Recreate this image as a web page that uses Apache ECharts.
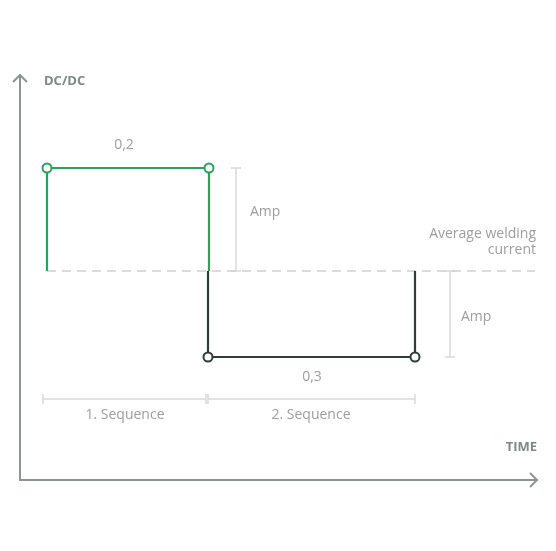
<!DOCTYPE html>
<html>
  <head>
    <meta charset="utf-8" />
    <title>DC/DC pulse</title>
    <script src="https://cdn.jsdelivr.net/npm/echarts@6/dist/echarts.min.js"></script>
    <style type="text/css">
      body { margin: 0; background: #fff; }
    </style>
  </head>
  <body>
    <div id="main" style="width: 556px; height: 551px"></div>
    <script type="text/javascript">
      // time positions (chart units) and current levels
      var timeMarks = [27, 188, 395];
      var avgLevel = 209;
      var highLevel = 312;
      var lowLevel = 123;

      // first sequence (green), second sequence (dark)
      var seq1 = [[27, 209], [27, 312], [189, 312], [189, 209]];
      var seq2 = [[188, 209], [188, 123], [395, 123], [395, 209]];
      var avgLine = [[27, 209], [515, 209]];

      // brackets: x1, y1, x2, y2
      var brackets = [
        [216, 312, 216, 209],
        [430, 209, 430, 123],
        [23, 81, 186, 81],
        [188, 81, 395, 81]
      ];

      // labels: x, y, text, align
      var labels = [
        [104, 335, "0,2", "center"],
        [230, 268, "Amp", "left"],
        [516, 238, "Average welding\ncurrent", "right"],
        [441, 163, "Amp", "left"],
        [292, 103, "0,3", "center"],
        [105, 65, "1. Sequence", "center"],
        [291, 65, "2. Sequence", "center"]
      ];

      // axis ends that get an open arrowhead: x, y, direction
      var arrowEnds = [[517, 0, "right"], [0, 405, "up"]];

      var myChart = echarts.init(document.getElementById("main"));

      function markerData(pts, marked) {
        return pts.map(function (p, i) {
          return marked.indexOf(i) >= 0 ? { value: p } : { value: p, symbol: "none" };
        });
      }

      var axisGrey = "#8c9592";

      var option = {
        animation: false,
        textStyle: { fontFamily: "Open Sans" },
        grid: { left: 20, top: 75, width: 517, height: 405 },
        xAxis: {
          type: "value", min: 0, max: 517,
          name: "TIME", nameLocation: "end", nameGap: 0,
          nameTextStyle: {
            color: "#7e8986", fontWeight: "bold", fontSize: 13,
            align: "right", verticalAlign: "bottom", padding: [0, 0, 26, 0]
          },
          axisLine: { lineStyle: { color: axisGrey, width: 2 } },
          axisTick: { show: false }, axisLabel: { show: false }, splitLine: { show: false }
        },
        yAxis: {
          type: "value", min: 0, max: 405,
          name: "DC/DC", nameLocation: "end", nameGap: -6,
          nameTextStyle: {
            color: "#7e8986", fontWeight: "bold", fontSize: 13,
            align: "left", verticalAlign: "middle", padding: [0, 0, 0, 24]
          },
          axisLine: { lineStyle: { color: axisGrey, width: 2 } },
          axisTick: { show: false }, axisLabel: { show: false }, splitLine: { show: false }
        },
        series: [
          {
            type: "line", data: avgLine, symbol: "none", silent: true,
            lineStyle: { color: "#d0d0d0", width: 1.5, type: [9, 6] }
          },
          {
            type: "custom", silent: true,
            encode: { x: [0, 2], y: [1, 3] },
            data: brackets,
            renderItem: function (params, api) {
              var a = api.coord([api.value(0), api.value(1)]);
              var b = api.coord([api.value(2), api.value(3)]);
              var vertical = Math.abs(a[0] - b[0]) < 1;
              var c = 5;
              var style = { stroke: "#d9d9d9", lineWidth: 1.5 };
              var caps = vertical
                ? [[a[0] - c, a[1], a[0] + c, a[1]], [b[0] - c, b[1], b[0] + c, b[1]]]
                : [[a[0], a[1] - c, a[0], a[1] + c], [b[0], b[1] - c, b[0], b[1] + c]];
              var children = [{ type: "line", shape: { x1: a[0], y1: a[1], x2: b[0], y2: b[1] }, style: style }];
              caps.forEach(function (k) {
                children.push({ type: "line", shape: { x1: k[0], y1: k[1], x2: k[2], y2: k[3] }, style: style });
              });
              return { type: "group", children: children };
            }
          },
          {
            type: "line", data: markerData(seq2, [1, 2]),
            symbol: "circle", symbolSize: 9, z: 3,
            itemStyle: { color: "#fff", borderColor: "#2e3d36", borderWidth: 2 },
            lineStyle: { color: "#2e3d36", width: 2.2 }
          },
          {
            type: "line", data: markerData(seq1, [1, 2]),
            symbol: "circle", symbolSize: 9, z: 4,
            itemStyle: { color: "#fff", borderColor: "#2ba15c", borderWidth: 2 },
            lineStyle: { color: "#2ba15c", width: 2.2 }
          },
          {
            type: "custom", silent: true, z: 5,
            encode: { x: 0, y: 1 },
            data: arrowEnds,
            renderItem: function (params, api) {
              var p = api.coord([api.value(0), api.value(1)]);
              var s = 7;
              var pts = api.value(2) === "right"
                ? [[p[0] - s, p[1] - s], [p[0], p[1]], [p[0] - s, p[1] + s]]
                : [[p[0] - s, p[1] + s], [p[0], p[1]], [p[0] + s, p[1] + s]];
              return {
                type: "polyline",
                shape: { points: pts },
                style: { stroke: axisGrey, lineWidth: 2, fill: null }
              };
            }
          },
          {
            type: "scatter", symbolSize: 0, silent: true,
            data: labels.map(function (l) {
              return {
                value: [l[0], l[1]],
                label: {
                  show: true, position: "inside", formatter: l[2], align: l[3],
                  color: "#858585", fontSize: 14, lineHeight: 16, fontFamily: "Open Sans"
                }
              };
            })
          }
        ]
      };

      myChart.setOption(option);
    </script>
  </body>
</html>
